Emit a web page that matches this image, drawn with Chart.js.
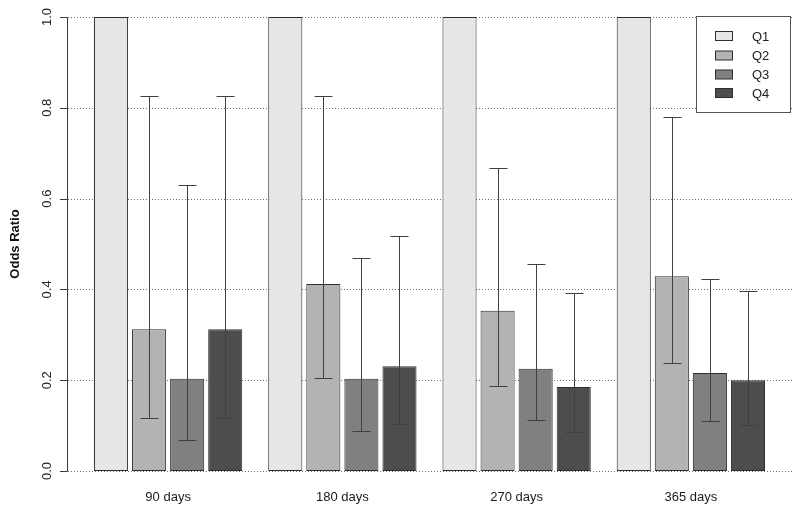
<!DOCTYPE html>
<html>
<head>
<meta charset="utf-8">
<script src="https://cdn.jsdelivr.net/npm/chart.js@4.4.1/dist/chart.umd.min.js"></script>
<style>
  html, body { margin: 0; padding: 0; background: #fff; }
  canvas { display: block; }
</style>
</head>
<body>
<canvas id="chart" width="800" height="512"></canvas>
<script>
const categories = ['90 days', '180 days', '270 days', '365 days'];
const seriesNames = ['Q1', 'Q2', 'Q3', 'Q4'];

const q1 = [1, 1, 1, 1];
const q2 = [0.312, 0.412, 0.353, 0.429];
const q3 = [0.203, 0.203, 0.225, 0.216];
const q4 = [0.312, 0.231, 0.185, 0.2];

// confidence intervals (Q1 is the reference, no interval)
const q2Low = [0.117, 0.205, 0.187, 0.237];
const q2High = [0.827, 0.827, 0.667, 0.779];
const q3Low = [0.068, 0.088, 0.112, 0.11];
const q3High = [0.629, 0.47, 0.455, 0.424];
const q4Low = [0.117, 0.104, 0.087, 0.101];
const q4High = [0.827, 0.518, 0.391, 0.397];

const yTicks = [0, 0.2, 0.4, 0.6, 0.8, 1.0];
const yTickLabels = ['0.0', '0.2', '0.4', '0.6', '0.8', '1.0'];

const colors = ['#e6e6e6', '#b3b3b3', '#808080', '#4d4d4d'];
const borderColor = '#2e2e2e';
const fontFamily = '"Liberation Sans", Arial, sans-serif';

const seriesValues = [q1, q2, q3, q4];
const intervals = [null, [q2Low, q2High], [q3Low, q3High], [q4Low, q4High]];

const datasets = seriesValues.map((values, i) => ({
  label: seriesNames[i],
  data: values,
  backgroundColor: colors[i],
  borderColor,
  borderWidth: 1,
  borderSkipped: false,
  categoryPercentage: 0.874,
  barPercentage: 0.895,
  intervals: intervals[i],
}));

// dotted grid lines, drawn behind the bars
const gridPlugin = {
  id: 'dottedGrid',
  beforeDatasetsDraw(chart) {
    const { ctx } = chart;
    const y = chart.scales.y;
    ctx.save();
    ctx.strokeStyle = '#707070';
    ctx.lineWidth = 1;
    ctx.setLineDash([1, 2]);
    yTicks.forEach((v) => {
      const py = Math.round(y.getPixelForValue(v)) + 0.5;
      ctx.beginPath();
      ctx.moveTo(68, py);
      ctx.lineTo(792, py);
      ctx.stroke();
    });
    ctx.restore();
  },
};

// error bars on top of the bars
const errorBarPlugin = {
  id: 'errorBars',
  afterDatasetsDraw(chart) {
    const { ctx } = chart;
    const y = chart.scales.y;
    ctx.save();
    ctx.strokeStyle = '#404040';
    ctx.lineWidth = 1;
    chart.data.datasets.forEach((ds, di) => {
      if (!ds.intervals) return;
      const meta = chart.getDatasetMeta(di);
      meta.data.forEach((bar, i) => {
        const x = Math.round(bar.x) + 0.5;
        const lo = Math.round(y.getPixelForValue(ds.intervals[0][i])) + 0.5;
        const hi = Math.round(y.getPixelForValue(ds.intervals[1][i])) + 0.5;
        ctx.beginPath();
        ctx.moveTo(x, lo);
        ctx.lineTo(x, hi);
        ctx.moveTo(x - 9, lo);
        ctx.lineTo(x + 9, lo);
        ctx.moveTo(x - 9, hi);
        ctx.lineTo(x + 9, hi);
        ctx.stroke();
      });
    });
    ctx.restore();
  },
};

// R-style y axis, title and boxed legend
const axisAndLegend = {
  id: 'axisAndLegend',
  afterDraw(chart) {
    const { ctx } = chart;
    const y = chart.scales.y;
    const top = Math.round(y.getPixelForValue(1)) + 0.5;
    const bottom = Math.round(y.getPixelForValue(0)) + 0.5;

    ctx.save();
    ctx.strokeStyle = '#3a3a3a';
    ctx.lineWidth = 1;
    ctx.beginPath();
    ctx.moveTo(67.5, top);
    ctx.lineTo(67.5, bottom);
    yTicks.forEach((v) => {
      const py = Math.round(y.getPixelForValue(v)) + 0.5;
      ctx.moveTo(60, py);
      ctx.lineTo(67.5, py);
    });
    ctx.stroke();

    ctx.fillStyle = '#222';
    ctx.font = `13px ${fontFamily}`;
    ctx.textAlign = 'center';
    ctx.textBaseline = 'middle';
    yTicks.forEach((v, i) => {
      ctx.save();
      ctx.translate(47, y.getPixelForValue(v));
      ctx.rotate(-Math.PI / 2);
      ctx.fillText(yTickLabels[i], 0, 0);
      ctx.restore();
    });

    ctx.save();
    ctx.font = `bold 13px ${fontFamily}`;
    ctx.fillStyle = '#111';
    ctx.translate(15, (y.getPixelForValue(0) + y.getPixelForValue(1)) / 2);
    ctx.rotate(-Math.PI / 2);
    ctx.fillText('Odds Ratio', 0, 0);
    ctx.restore();

    // legend
    ctx.fillStyle = '#fff';
    ctx.fillRect(696.5, 16.5, 94, 96);
    ctx.strokeStyle = '#555';
    ctx.strokeRect(696.5, 16.5, 94, 96);
    const rows = [36, 55.5, 74.5, 93];
    chart.data.datasets.forEach((ds, i) => {
      ctx.fillStyle = ds.backgroundColor;
      ctx.fillRect(715.5, rows[i] - 4.5, 17, 9);
      ctx.strokeStyle = borderColor;
      ctx.strokeRect(715.5, rows[i] - 4.5, 17, 9);
      ctx.fillStyle = '#222';
      ctx.font = `13px ${fontFamily}`;
      ctx.textAlign = 'left';
      ctx.fillText(ds.label, 752, rows[i] + 1);
    });
    ctx.restore();
  },
};

new Chart(document.getElementById('chart'), {
  type: 'bar',
  data: {
    labels: categories,
    datasets,
  },
  options: {
    responsive: false,
    animation: false,
    layout: {
      padding: { left: 81, right: 22, top: 17, bottom: 0 },
    },
    plugins: {
      legend: { display: false },
      tooltip: { enabled: false },
    },
    scales: {
      x: {
        grid: { display: false, drawTicks: false },
        border: { display: false },
        ticks: {
          padding: 19,
          color: '#1a1a1a',
          font: { family: fontFamily, size: 13 },
        },
        afterFit(scale) {
          scale.height = 41;
        },
      },
      y: {
        display: false,
        min: 0,
        max: 1,
      },
    },
  },
  plugins: [gridPlugin, errorBarPlugin, axisAndLegend],
});
</script>
</body>
</html>
